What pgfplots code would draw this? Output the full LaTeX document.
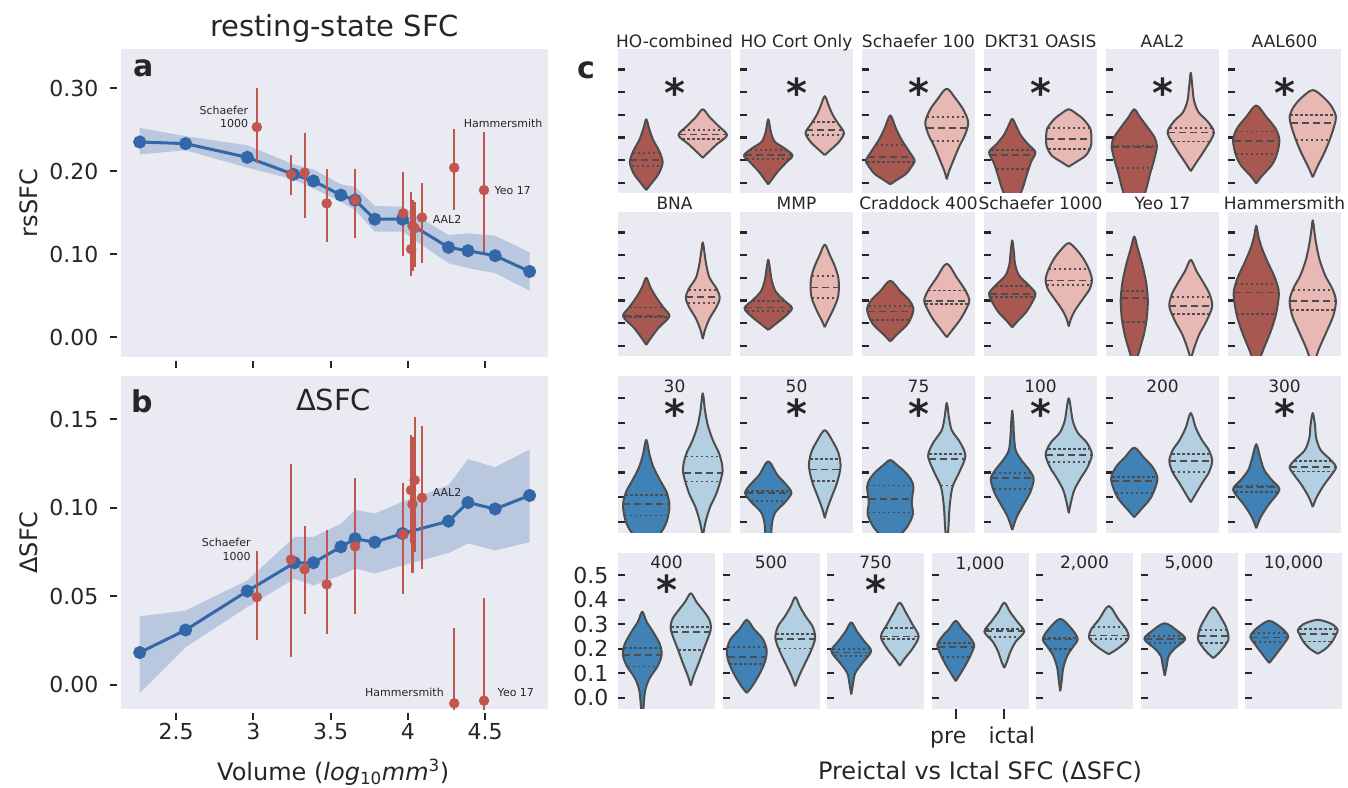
\documentclass[border=0pt]{standalone}
\usepackage{pgfplots}
\pgfplotsset{compat=1.18}
\usepackage{pgfplotstable}
\usepgfplotslibrary{fillbetween}
\usepackage{fontspec}
\setmainfont{DejaVu Sans}

\definecolor{bgc}{HTML}{EAEAF2}
\definecolor{txtc}{HTML}{262626}
\definecolor{rpre}{HTML}{A85850}
\definecolor{rict}{HTML}{E8B9B4}
\definecolor{bpre}{HTML}{4082B5}
\definecolor{bict}{HTML}{B2D0E2}
\definecolor{vline}{HTML}{4D4D4D}
\definecolor{redpt}{HTML}{C1564F}
\definecolor{blueln}{HTML}{3467A8}
\definecolor{bandc}{HTML}{B9C8DF}

\newcommand\tickfont{\fontsize{22}{24}\selectfont}
\newcommand\labfont{\fontsize{24}{26}\selectfont}
\newcommand\ttlfont{\fontsize{29}{31}\selectfont}
\newcommand\subfont{\fontsize{17}{19}\selectfont}
\newcommand\annfont{\fontsize{11}{13.5}\selectfont}
\newcommand\panfont{\fontsize{30}{32}\selectfont\bfseries}
\newcommand\astfont{\fontsize{40}{40}\selectfont\bfseries}

\pgfplotsset{
  /pgf/number format/assume math mode=true,
  cbase/.style={scale only axis, anchor=north west, xmin=-0.5, xmax=1.5, ymin=-0.045, ymax=0.59,
    axis background/.style={fill=bgc}, axis line style={draw=none},
    xtick=\empty, ytick={0,0.1,0.2,0.3,0.4,0.5}, yticklabels={},
    ytick pos=left, tick align=inside, major tick length=7pt,
    every tick/.style={line width=2.2pt, color=txtc},
    title style={font=\subfont, anchor=base, at={(0.5,1)}, inner sep=0pt},
    clip=true},
  crow1/.style={cbase, width=113pt, height=144pt, title style={yshift=-5pt}},
  crow2/.style={cbase, width=113pt, height=144pt, title style={yshift=-4pt}},
  crow3/.style={cbase, width=113pt, height=157pt, title style={yshift=-23pt}},
  crow4/.style={cbase, width=97pt, height=156pt, title style={yshift=-22pt}},
  vshape/.style={draw=vline, line width=2pt, smooth, line join=round},
  vm/.style={draw=vline, line width=1.8pt, dash pattern=on 7pt off 4pt},
  vq/.style={draw=vline, line width=1.8pt, dash pattern=on 2.5pt off 2.5pt},
  abstyle/.style={scale only axis, anchor=north west, width=427pt, xmin=2.144, xmax=4.907,
    axis background/.style={fill=bgc}, axis line style={draw=none},
    xtick={2.5,3,3.5,4,4.5}, tick align=outside, major tick length=7pt,
    every tick/.style={line width=2pt, color=txtc}, xtick pos=bottom, ytick pos=left,
    y tick style={xshift=-4pt}, x tick style={yshift=-4pt},
    tick label style={font=\tickfont},
    xticklabel style={yshift=-4pt},
    yticklabel style={xshift=-12pt, /pgf/number format/.cd, fixed, fixed zerofill, precision=2},
    ylabel style={font=\labfont, at={(axis description cs:-0.215,0.5)}, anchor=center},
    clip=true},
}
\tikzset{ast/.style={anchor=north, inner sep=0pt, font=\astfont},
  ann/.style={font=\annfont, inner sep=1pt}}

\newcommand\violin[8]{%
  \gdef\vR{(#1,#3)}\gdef\vL{}%
  \foreach \yy/\ww in {#5}{%
    \pgfmathsetmacro\xa{#1+\ww}%
    \pgfmathsetmacro\xb{#1-\ww}%
    \xdef\vR{\vR\space(\xa,\yy)}%
    \xdef\vL{(\xb,\yy)\space\vL}%
  }%
  \xdef\vR{\vR\space(#1,#4)}%
  \xdef\vL{\vL\space(#1,#3)}%
  \edef\vtmp{\noexpand\addplot[vshape,fill=#2] coordinates {\vR\space\vL};}%
  \vtmp
  \qline{#1}{vq}#6\relax
  \qline{#1}{vm}#7\relax
  \qline{#1}{vq}#8\relax
}
\def\qline#1#2#3/#4\relax{%
  \pgfmathsetmacro\xa{#1-#4}%
  \pgfmathsetmacro\xb{#1+#4}%
  \edef\vtmp{\noexpand\addplot[#2] coordinates {(\xa,#3) (\xb,#3)};}%
  \vtmp
}

\pgfplotstableread{
x y lo hi
2.265 0.235 0.220 0.252
2.562 0.233 0.225 0.242
2.961 0.2165 0.204 0.231
3.260 0.196 0.190 0.208
3.389 0.188 0.179 0.202
3.567 0.171 0.163 0.184
3.659 0.165 0.153 0.181
3.786 0.142 0.127 0.158
3.965 0.142 0.127 0.157
4.263 0.108 0.089 0.123
4.389 0.104 0.083 0.125
4.565 0.098 0.077 0.122
4.788 0.079 0.056 0.102
}\blueA
\pgfplotstableread{
x y lo hi
3.023 0.253 0.210 0.300
3.244 0.196 0.171 0.219
3.332 0.198 0.143 0.246
3.475 0.161 0.114 0.203
3.659 0.165 0.119 0.203
3.970 0.149 0.098 0.199
4.021 0.106 0.073 0.175
4.030 0.134 0.080 0.165
4.044 0.131 0.085 0.163
4.092 0.144 0.089 0.186
4.300 0.204 0.153 0.251
4.493 0.177 0.103 0.247
}\redA
\pgfplotstableread{
x y lo hi
2.265 0.0183 -0.0047 0.0387
2.562 0.031 0.0213 0.042
2.961 0.053 0.044 0.059
3.267 0.069 0.060 0.0836
3.389 0.069 0.0562 0.0836
3.567 0.078 0.062 0.091
3.659 0.0826 0.0657 0.099
3.786 0.0806 0.063 0.0968
3.965 0.0855 0.0675 0.1034
4.263 0.0925 0.0745 0.1128
4.389 0.103 0.080 0.1275
4.565 0.0994 0.076 0.123
4.788 0.107 0.0806 0.133
}\blueB
\pgfplotstableread{
x y lo hi
3.023 0.0496 0.0251 0.0757
3.244 0.0708 0.0157 0.125
3.332 0.0653 0.0398 0.0898
3.475 0.0568 0.0289 0.0877
3.659 0.0783 0.0398 0.117
3.970 0.085 0.0515 0.114
4.021 0.110 0.080 0.141
4.030 0.102 0.063 0.140
4.044 0.1157 0.0751 0.1515
4.092 0.1057 0.0657 0.146
4.300 -0.0104 -0.06 0.032
4.493 -0.0089 -0.06 0.049
}\redB

\begin{document}
\color{txtc}
\begin{tikzpicture}

% ---------------- panel a ----------------
\begin{axis}[abstyle, at={(121pt,738pt)}, height=308pt, ymin=-0.024, ymax=0.347,
  ytick={0,0.1,0.2,0.3}, xticklabels={}, ylabel={rsSFC},
  title={resting-state SFC}, title style={font=\ttlfont, at={(0.5,1.068)}, anchor=center, yshift=-6pt}]
\addplot[name path=upA, draw=none] table[x=x,y=hi]{\blueA};
\addplot[name path=loA, draw=none] table[x=x,y=lo]{\blueA};
\addplot[bandc] fill between[of=upA and loA];
\addplot[blueln, line width=3pt, mark=*, mark size=5pt, mark options={fill=blueln, draw=blueln}] table[x=x,y=y]{\blueA};
\addplot[only marks, mark=*, mark size=5pt, color=redpt, mark options={fill=redpt, draw=redpt},
  error bars/.cd, y dir=both, y explicit, error bar style={line width=2.2pt, color=redpt}, error mark=none]
  table[x=x, y=y, y error plus expr=\thisrow{hi}-\thisrow{y}, y error minus expr=\thisrow{y}-\thisrow{lo}]{\redA};
\node[ann, anchor=east, align=right] at (axis cs:2.975,0.265) {Schaefer\\1000};
\node[ann, anchor=west] at (axis cs:4.355,0.257) {Hammersmith};
\node[ann, anchor=west] at (axis cs:4.553,0.177) {Yeo 17};
\node[ann, anchor=west] at (axis cs:4.154,0.142) {AAL2};
\node[font=\panfont, anchor=west, inner sep=0pt] at (axis description cs:0.028,0.938) {a};
\end{axis}

% ---------------- panel b ----------------
\begin{axis}[abstyle, at={(121pt,411pt)}, height=333pt, ymin=-0.0136, ymax=0.1745,
  ytick={0,0.05,0.1,0.15}, ylabel={ΔSFC},
  xlabel={Volume (\textit{log}\textsubscript{10}\textit{mm}\textsuperscript{3})},
  xlabel style={font=\labfont, at={(axis description cs:0.497,-0.216)}, anchor=base}]
\addplot[name path=upB, draw=none] table[x=x,y=hi]{\blueB};
\addplot[name path=loB, draw=none] table[x=x,y=lo]{\blueB};
\addplot[bandc] fill between[of=upB and loB];
\addplot[blueln, line width=3pt, mark=*, mark size=5pt, mark options={fill=blueln, draw=blueln}] table[x=x,y=y]{\blueB};
\addplot[only marks, mark=*, mark size=5pt, color=redpt, mark options={fill=redpt, draw=redpt},
  error bars/.cd, y dir=both, y explicit, error bar style={line width=2.2pt, color=redpt}, error mark=none]
  table[x=x, y=y, y error plus expr=\thisrow{hi}-\thisrow{y}, y error minus expr=\thisrow{y}-\thisrow{lo}]{\redB};
\node[ann, anchor=east, align=right] at (axis cs:2.99,0.0766) {Schaefer\\1000};
\node[ann, anchor=west] at (axis cs:4.154,0.1087) {AAL2};
\node[ann, anchor=east] at (axis cs:4.24,-0.0043) {Hammersmith};
\node[ann, anchor=west] at (axis cs:4.574,-0.0043) {Yeo 17};
\node[font=\panfont, anchor=west, inner sep=0pt] at (axis description cs:0.023,0.923) {b};
\node[font=\ttlfont] at (axis description cs:0.498,0.928) {ΔSFC};
\end{axis}

\node[font=\panfont] at (586pt,717pt) {c};

% ---------------- row 1 ----------------
\begin{axis}[crow1, at={(618pt,738pt)}, title={HO-combined}]
\violin{0}{rpre}{-0.032}{0.28}{0.0/0.10,0.04/0.22,0.09/0.29,0.14/0.23,0.19/0.12,0.24/0.05}{0.075/0.26}{0.10/0.28}{0.13/0.24}
\violin{1}{rict}{0.11}{0.324}{0.13/0.08,0.17/0.25,0.21/0.43,0.25/0.28,0.29/0.12}{0.194/0.36}{0.213/0.42}{0.232/0.35}
\node[ast] at (axis cs:0.5,0.463) {*};
\end{axis}
\begin{axis}[crow1, at={(740pt,738pt)}, title={HO Cort Only}]
\violin{0}{rpre}{-0.007}{0.28}{0.02/0.08,0.05/0.17,0.09/0.32,0.12/0.43,0.15/0.30,0.18/0.12,0.22/0.05}{0.106/0.38}{0.124/0.41}{0.144/0.33}
\violin{1}{rict}{0.122}{0.382}{0.14/0.08,0.18/0.25,0.22/0.34,0.26/0.24,0.30/0.14,0.34/0.07}{0.212/0.32}{0.232/0.33}{0.268/0.22}
\node[ast] at (axis cs:0.5,0.463) {*};
\end{axis}
\begin{axis}[crow1, at={(862pt,738pt)}, title={Schaefer 100}]
\violin{0}{rpre}{-0.007}{0.297}{0.01/0.10,0.04/0.28,0.08/0.40,0.10/0.43,0.14/0.33,0.19/0.20,0.24/0.10}{0.091/0.41}{0.115/0.39}{0.165/0.26}
\violin{1}{rict}{0.015}{0.415}{0.05/0.04,0.10/0.12,0.16/0.22,0.21/0.32,0.265/0.38,0.32/0.30,0.37/0.16}{0.184/0.27}{0.241/0.35}{0.29/0.35}
\node[ast] at (axis cs:0.5,0.463) {*};
\end{axis}
\begin{axis}[crow1, at={(984pt,738pt)}, title={DKT31 OASIS}]
\violin{0}{rpre}{-0.10}{0.282}{-0.06/0.12,-0.02/0.19,0.03/0.25,0.09/0.33,0.135/0.41,0.17/0.28,0.21/0.15,0.25/0.07}{0.062/0.28}{0.124/0.39}{0.144/0.37}
\violin{1}{rict}{0.071}{0.324}{0.09/0.12,0.12/0.30,0.16/0.39,0.20/0.40,0.24/0.38,0.28/0.26,0.30/0.16}{0.15/0.36}{0.194/0.39}{0.243/0.37}
\node[ast] at (axis cs:0.5,0.463) {*};
\end{axis}
\begin{axis}[crow1, at={(1106pt,738pt)}, title={AAL2}]
\violin{0}{rpre}{-0.10}{0.324}{-0.07/0.15,-0.02/0.22,0.04/0.28,0.10/0.35,0.16/0.40,0.20/0.36,0.25/0.22,0.29/0.10}{0.066/0.31}{0.159/0.40}{0.163/0.40}
\violin{1}{rict}{0.051}{0.485}{0.09/0.10,0.15/0.26,0.22/0.41,0.27/0.30,0.31/0.14,0.36/0.06,0.42/0.03}{0.182/0.33}{0.222/0.41}{0.241/0.37}
\node[ast] at (axis cs:0.5,0.463) {*};
\end{axis}
\begin{axis}[crow1, at={(1228pt,738pt)}, title={AAL600}]
\violin{0}{rpre}{-0.003}{0.341}{0.03/0.10,0.08/0.28,0.13/0.37,0.19/0.41,0.24/0.34,0.29/0.18}{0.126/0.36}{0.185/0.40}{0.226/0.36}
\violin{1}{rict}{0.024}{0.409}{0.07/0.08,0.13/0.20,0.19/0.30,0.25/0.38,0.29/0.41,0.33/0.35,0.37/0.22}{0.188/0.30}{0.265/0.39}{0.299/0.40}
\node[ast] at (axis cs:0.5,0.463) {*};
\end{axis}

% ---------------- row 2 ----------------
\begin{axis}[crow2, at={(618pt,575pt)}, title={BNA}]
\violin{0}{rpre}{0.004}{0.30}{0.03/0.07,0.08/0.22,0.13/0.41,0.17/0.30,0.22/0.16,0.26/0.07}{0.126/0.39}{0.132/0.40}{0.169/0.30}
\violin{1}{rict}{0.03}{0.456}{0.07/0.04,0.12/0.12,0.17/0.24,0.21/0.30,0.25/0.25,0.30/0.12,0.36/0.06,0.41/0.03}{0.19/0.27}{0.215/0.29}{0.247/0.25}
\end{axis}
\begin{axis}[crow2, at={(740pt,575pt)}, title={MMP}]
\violin{0}{rpre}{0.07}{0.38}{0.09/0.10,0.13/0.30,0.166/0.42,0.20/0.28,0.24/0.13,0.29/0.06,0.34/0.03}{0.154/0.38}{0.169/0.41}{0.199/0.28}
\violin{1}{rict}{0.082}{0.446}{0.11/0.05,0.16/0.15,0.21/0.23,0.254/0.25,0.30/0.24,0.35/0.18,0.40/0.09}{0.209/0.23}{0.257/0.25}{0.306/0.23}
\end{axis}
\begin{axis}[crow2, at={(862pt,575pt)}, title={Craddock 400}]
\violin{0}{rpre}{0.019}{0.287}{0.05/0.12,0.10/0.32,0.159/0.41,0.20/0.34,0.24/0.18}{0.115/0.34}{0.151/0.40}{0.176/0.38}
\violin{1}{rict}{0.038}{0.362}{0.07/0.10,0.12/0.25,0.17/0.36,0.20/0.40,0.24/0.34,0.30/0.18}{0.185/0.38}{0.196/0.39}{0.244/0.33}
\end{axis}
\begin{axis}[crow2, at={(984pt,575pt)}, title={Schaefer 1000}]
\violin{0}{rpre}{0.081}{0.465}{0.11/0.10,0.15/0.25,0.20/0.37,0.232/0.41,0.27/0.28,0.31/0.12,0.36/0.05,0.41/0.03}{0.215/0.39}{0.228/0.40}{0.262/0.30}
\violin{1}{rict}{0.085}{0.453}{0.12/0.04,0.16/0.12,0.21/0.26,0.25/0.37,0.29/0.41,0.33/0.37,0.38/0.27,0.42/0.15}{0.268/0.39}{0.288/0.41}{0.338/0.35}
\end{axis}
\begin{axis}[crow2, at={(1106pt,575pt)}, title={Yeo 17}]
\violin{0}{rpre}{-0.10}{0.482}{-0.03/0.08,0.05/0.17,0.12/0.22,0.20/0.24,0.28/0.21,0.36/0.14,0.43/0.06}{0.106/0.21}{0.21/0.24}{0.24/0.23}
\violin{1}{rict}{-0.06}{0.379}{-0.01/0.06,0.05/0.15,0.11/0.28,0.174/0.38,0.23/0.33,0.28/0.22,0.33/0.10}{0.14/0.33}{0.174/0.38}{0.215/0.34}
\end{axis}
\begin{axis}[crow2, at={(1228pt,575pt)}, title={Hammersmith}]
\violin{0}{rpre}{-0.10}{0.529}{-0.02/0.12,0.06/0.25,0.14/0.35,0.232/0.40,0.30/0.33,0.37/0.20,0.43/0.10,0.48/0.04}{0.14/0.35}{0.235/0.40}{0.274/0.36}
\violin{1}{rict}{-0.10}{0.553}{-0.02/0.10,0.06/0.24,0.13/0.36,0.196/0.41,0.25/0.35,0.31/0.22,0.38/0.12,0.45/0.06,0.50/0.03}{0.159/0.38}{0.196/0.41}{0.247/0.35}
\end{axis}

% ---------------- row 3 ----------------
\begin{axis}[crow3, at={(618pt,411pt)}, title={30}]
\violin{0}{bpre}{-0.12}{0.332}{-0.04/0.27,0.0/0.36,0.04/0.40,0.073/0.41,0.12/0.36,0.17/0.24,0.22/0.13,0.27/0.06}{0.026/0.38}{0.073/0.41}{0.11/0.37}
\violin{1}{bict}{-0.06}{0.52}{0.0/0.05,0.06/0.13,0.12/0.25,0.205/0.35,0.27/0.30,0.33/0.18,0.39/0.09,0.45/0.04}{0.163/0.30}{0.198/0.34}{0.264/0.30}
\node[ast] at (axis cs:0.5,0.50) {*};
\end{axis}
\begin{axis}[crow3, at={(740pt,411pt)}, title={50}]
\violin{0}{bpre}{-0.12}{0.245}{-0.05/0.05,0.0/0.07,0.04/0.13,0.08/0.30,0.117/0.41,0.15/0.32,0.19/0.16}{0.086/0.31}{0.117/0.40}{0.124/0.39}
\violin{1}{bict}{0.015}{0.371}{0.05/0.04,0.10/0.12,0.16/0.22,0.225/0.28,0.28/0.24,0.33/0.13}{0.164/0.22}{0.212/0.27}{0.253/0.26}
\node[ast] at (axis cs:0.5,0.50) {*};
\end{axis}
\begin{axis}[crow3, at={(862pt,411pt)}, title={75}]
\violin{0}{bpre}{-0.10}{0.25}{-0.06/0.15,-0.02/0.30,0.03/0.40,0.08/0.38,0.14/0.41,0.17/0.37,0.20/0.27,0.23/0.12}{0.038/0.40}{0.092/0.38}{0.147/0.40}
\violin{1}{bict}{-0.10}{0.481}{-0.02/0.03,0.06/0.05,0.14/0.10,0.20/0.22,0.266/0.33,0.32/0.24,0.37/0.09,0.42/0.04}{0.147/0.11}{0.255/0.31}{0.276/0.31}
\node[ast] at (axis cs:0.5,0.50) {*};
\end{axis}
\begin{axis}[crow3, at={(984pt,411pt)}, title={100}]
\violin{0}{bpre}{-0.033}{0.45}{0.02/0.08,0.07/0.20,0.12/0.32,0.174/0.38,0.21/0.30,0.25/0.16,0.29/0.06,0.35/0.03,0.40/0.02}{0.133/0.33}{0.178/0.37}{0.198/0.33}
\violin{1}{bict}{0.035}{0.50}{0.08/0.04,0.13/0.10,0.18/0.22,0.22/0.33,0.273/0.41,0.32/0.32,0.36/0.16,0.41/0.07}{0.243/0.37}{0.27/0.40}{0.296/0.36}
\node[ast] at (axis cs:0.5,0.50) {*};
\end{axis}
\begin{axis}[crow3, at={(1106pt,411pt)}, title={200}]
\violin{0}{bpre}{0.019}{0.30}{0.05/0.12,0.10/0.30,0.171/0.41,0.22/0.33,0.26/0.17}{0.117/0.33}{0.164/0.40}{0.182/0.39}
\violin{1}{bict}{0.079}{0.44}{0.11/0.08,0.16/0.21,0.20/0.32,0.246/0.38,0.29/0.32,0.33/0.20,0.38/0.09}{0.201/0.32}{0.246/0.38}{0.276/0.33}
\end{axis}
\begin{axis}[crow3, at={(1228pt,411pt)}, title={300}]
\violin{0}{bpre}{-0.026}{0.314}{0.02/0.08,0.07/0.22,0.13/0.41,0.17/0.27,0.21/0.14,0.26/0.07}{0.12/0.37}{0.14/0.38}{0.144/0.36}
\violin{1}{bict}{0.06}{0.44}{0.10/0.07,0.15/0.20,0.19/0.33,0.221/0.41,0.25/0.32,0.29/0.14,0.34/0.06,0.39/0.04}{0.204/0.36}{0.221/0.40}{0.245/0.33}
\node[ast] at (axis cs:0.5,0.50) {*};
\end{axis}

% ---------------- row 4 ----------------
\begin{axis}[crow4, at={(618pt,234pt)}, title={400},
  yticklabels={0.0,0.1,0.2,0.3,0.4,0.5}, yticklabel style={font=\tickfont, xshift=-6pt}]
\violin{0}{bpre}{-0.10}{0.351}{-0.03/0.03,0.03/0.06,0.08/0.15,0.13/0.32,0.176/0.40,0.22/0.36,0.27/0.22,0.31/0.09}{0.128/0.30}{0.176/0.40}{0.204/0.37}
\violin{1}{bict}{0.05}{0.426}{0.09/0.06,0.14/0.16,0.20/0.27,0.277/0.41,0.32/0.38,0.36/0.24,0.39/0.12}{0.196/0.26}{0.268/0.40}{0.29/0.40}
\node[ast] at (axis cs:0.5,0.50) {*};
\end{axis}
\begin{axis}[crow4, at={(722.5pt,234pt)}, title={500}]
\violin{0}{bpre}{0.02}{0.318}{0.05/0.12,0.10/0.27,0.15/0.38,0.196/0.41,0.24/0.33,0.28/0.15}{0.139/0.36}{0.166/0.39}{0.207/0.39}
\violin{1}{bict}{0.047}{0.41}{0.09/0.08,0.14/0.20,0.19/0.32,0.243/0.41,0.29/0.36,0.33/0.22,0.37/0.10}{0.201/0.34}{0.239/0.40}{0.26/0.39}
\end{axis}
\begin{axis}[crow4, at={(827pt,234pt)}, title={750}]
\violin{0}{bpre}{0.014}{0.308}{0.05/0.03,0.10/0.08,0.14/0.22,0.19/0.41,0.23/0.27,0.27/0.12}{0.172/0.34}{0.185/0.39}{0.199/0.38}
\violin{1}{bict}{0.131}{0.388}{0.16/0.10,0.20/0.26,0.25/0.39,0.30/0.26,0.35/0.12}{0.239/0.36}{0.25/0.39}{0.284/0.30}
\node[ast] at (axis cs:0.5,0.50) {*};
\end{axis}
\begin{axis}[crow4, at={(931.5pt,234pt)}, title={1,000}, clip=false,
  tick align=outside, y tick style={xshift=7pt},
  xtick={0,1}, xtick pos=bottom,
  xticklabels={\strut pre\hspace*{15pt},\hspace*{15pt}ictal\strut},
  xticklabel style={font=\tickfont, yshift=-7pt},
  xlabel={Preictal vs Ictal SFC (ΔSFC)},
  xlabel style={font=\labfont, at={(axis description cs:0.5,-0.455)}, anchor=base}]
\violin{0}{bpre}{0.068}{0.314}{0.10/0.10,0.14/0.22,0.18/0.32,0.216/0.38,0.25/0.28,0.28/0.14}{0.166/0.29}{0.209/0.37}{0.223/0.36}
\violin{1}{bict}{0.122}{0.388}{0.15/0.06,0.19/0.13,0.23/0.24,0.27/0.41,0.31/0.27,0.35/0.12}{0.249/0.32}{0.274/0.39}{0.28/0.37}
\draw[line width=2pt, color=txtc] (axis cs:0,-0.045) ++(0pt,-3pt) -- ++(0pt,-7pt);
\draw[line width=2pt, color=txtc] (axis cs:1,-0.045) ++(0pt,-3pt) -- ++(0pt,-7pt);
\end{axis}
\begin{axis}[crow4, at={(1036pt,234pt)}, title={2,000}]
\violin{0}{bpre}{0.027}{0.322}{0.07/0.03,0.12/0.06,0.17/0.14,0.21/0.27,0.24/0.36,0.28/0.24}{0.199/0.23}{0.238/0.35}{0.243/0.35}
\violin{1}{bict}{0.178}{0.374}{0.20/0.18,0.23/0.36,0.25/0.41,0.28/0.36,0.32/0.20}{0.241/0.39}{0.254/0.40}{0.288/0.33}
\end{axis}
\begin{axis}[crow4, at={(1140.5pt,234pt)}, title={5,000}]
\violin{0}{bpre}{0.09}{0.304}{0.13/0.04,0.17/0.08,0.20/0.20,0.239/0.42,0.27/0.28}{0.223/0.33}{0.239/0.41}{0.253/0.35}
\violin{1}{bict}{0.162}{0.369}{0.19/0.15,0.236/0.31,0.28/0.28,0.32/0.18}{0.223/0.27}{0.253/0.30}{0.277/0.28}
\end{axis}
\begin{axis}[crow4, at={(1245pt,234pt)}, title={10,000}]
\violin{0}{bpre}{0.142}{0.314}{0.18/0.15,0.22/0.30,0.25/0.39,0.28/0.28}{0.227/0.32}{0.246/0.38}{0.264/0.34}
\violin{1}{bict}{0.18}{0.318}{0.20/0.16,0.23/0.30,0.26/0.38,0.277/0.41,0.30/0.30}{0.23/0.30}{0.261/0.38}{0.282/0.38}
\end{axis}
\pgfresetboundingbox
\path (0,0) rectangle (1348pt,787pt);
\end{tikzpicture}
\end{document}
